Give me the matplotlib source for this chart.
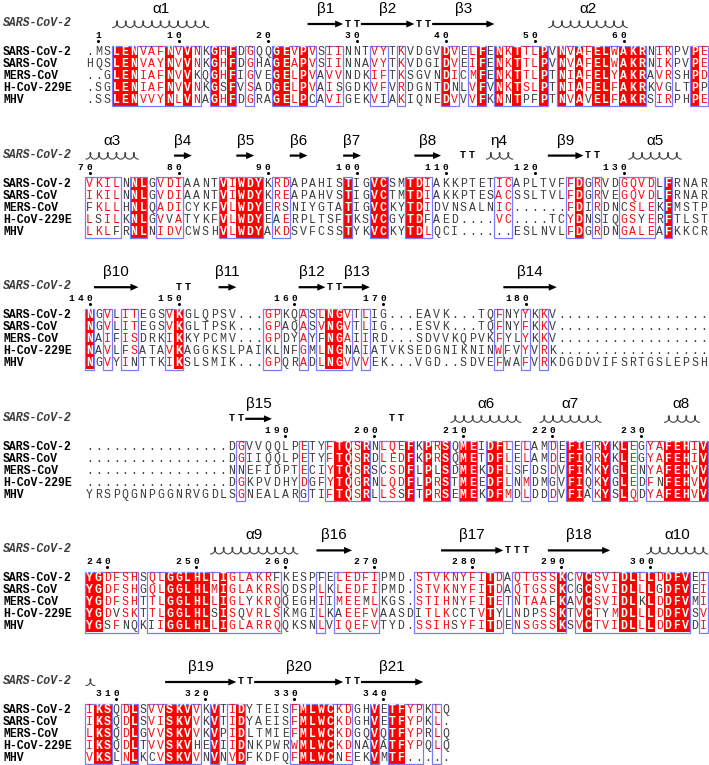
import numpy as np
import matplotlib.pyplot as plt
from matplotlib.patches import Rectangle, FancyArrow

# --- alignment data -------------------------------------------------------
NAMES = ["SARS-CoV-2", "SARS-CoV", "MERS-CoV", "H-CoV-229E", "MHV"]

BLOCK1 = [
    ".MSLENVAFNVVNKGHFDGQQGEVPVSIINNTVYTKVDGVDVELFENKTTLPVNVAFELWAKRNIKPVPE",
    "HQSLENVAYNVVNKGHFDGHAGEAPVSIINNAVYTKVDGIDVEIFENKTTLPVNVAFELWAKRNIKPVPE",
    "..GLENIAFNVVKQGHFIGVEGELPVAVVNDKIFTKSGVNDICMFENKTTLPTNIAFELYAKRAVRSHPD",
    ".SGLENIAFNVVNKGSFVSADGELPVAISGDKVFVRDGNTDNLVFVNKTSLPTNIAFELFAKRKVGLTPP",
    ".SSLENVVYNLVNAGHFDGRAGELPCAVIGEKVIAKIQNEDVVVFKNNTPFPTNVAVELFAKRSIRPHPE",
]
BLOCK2 = [
    "VKILNNLGVDIAANTVIWDYKRDAPAHISTIGVCSMTDIAKKPTETICAPLTVFFDGRVDGQVDLFRNAR",
    "IKILNNLGVDIAANTVIWDYKREAPAHVSTIGVCTMTDIAKKPTESACSSLTVLFDGRVEGQVDLFRNAR",
    "FKLLHNLQADICYKFVLWDYERSNIYGTATIGVCKYTDIDVNSALNIC......FDIRDNCSLEKFMSTP",
    "LSILKNLGVVATYKFVLWDYEAERPLTSFTKSVCGYTDFAED....VC....TCYDNSIQGSYERFTLST",
    "LKLFRNLNIDVCWSHVLWDYAKDSVFCSSTYKVCKYTDLQCI......ESLNVLFDGRDNGALEAFKKCR",
]
BLOCK3 = [
    "NGVLITEGSVKGLQPSV...GPKQASLNGVTLIG...EAVK...TQFNYYKKV" + "." * 17,
    "NGVLITEGSVKGLTPSK...GPAQASVNGVTLIG...ESVK...TQFNYFKKV" + "." * 17,
    "NAIFISDRKIKKYPCMV...GPDYAYFNGAIIRD...SDVVKQPVKFYLYKKV" + "." * 17,
    "NAVLFSATAVKAGGKSLPAIKLNFGMLNGNAIATVKSEDGNIKNINWFVYVRK" + "." * 17,
    "NGVYINTTKIKSLSMIK...GPQRADLNGVVVEK...VGD..SDVEFWAFVRKDGDDVIFSRTGSLEPSH",
]
BLOCK4 = [
    "." * 16 + "DGVVQQLPETYFTQSRNLQEFKPRSQMEIDFLELAMDEFIERYKLEGYAFEHIV",
    "." * 16 + "DGIIQQLPETYFTQSRDLEDFKPRSQMETDFLELAMDEFIQRYKLEGYAFEHIV",
    "." * 16 + "NNEFIDPTECIYTQSRSCSDFLPLSDMEKDFLSFDSDVFIKKYGLENYAFEHVV",
    "." * 16 + "DGKPVDHYDGFYTQGRNLQDFLPRSTMEEDFLNMDMGVFIQKYGLEDFNFEHVV",
    "YRSPQGNPGGNRVGDLSGNEALARGTIFTQSRLLSSFTPRSEMEKDFMDLDDDVFIAKYSLQDYAFEHVV",
]
BLOCK5 = [
    "YGDFSHSQLGGLHLLIGLAKRFKESPFELEDFIPMD.STVKNYFITDAQTGSSKCVCSVIDLLLDDFVEI",
    "YGDFSHGQLGGLHLMIGLAKRSQDSPLKLEDFIPMD.STVKNYFITDAQTGSSKCGCSVIDLLLGDFVEI",
    "YGDFSHTTLGGLHLLIGLYKRQQEGHIIMEEMLKGS.STIHNYFITETNTAAFKAVCSVIDLKLDDFVMI",
    "YGDVSKTTLGGLHLSISQVRLSKMGILKAEEFVAASDITLKCCTVTYLNDPSSKTVCTYMDLLLDDFVSV",
    "YGSFNQKIIGGLHLLIGLARRQQKSNLVIQEFVTYD.SSIHSYFITDENSGSSKSVCTVIDLLLDDFVDI",
]
BLOCK6 = [
    "IKSQDLSVVSKVVKVTIDYTEISFMLWCKDGHVETFYPKLQ",
    "IKSQDLSVISKVVKVTIDYAEISFMLWCKDGHVETFYPKL.",
    "LKSQDLGVVSKVVKVPIDLTMIEFMLWCKDGQVQTFYPRLQ",
    "IKSQDLTVVSKVHEVIIDNKPWRWMLWCKDNAVATFYPQLQ",
    "VKSLNLKCVSKVVNVNVDFKDFQFMLWCNEEKVMTF.....",
]

# similarity boxes (first column, last column)
BOXES1 = [(3, 12), (14, 16), (18, 18), (21, 25), (27, 28), (32, 33), (35, 35),
          (40, 41), (43, 44), (46, 51), (53, 62), (64, 65), (68, 69)]
BOXES2 = [(0, 3), (5, 6), (8, 10), (15, 19), (21, 22), (29, 29), (32, 33),
          (36, 38), (46, 47), (54, 55), (57, 57), (60, 63), (65, 65)]
BOXES3 = [(0, 0), (2, 2), (4, 5), (9, 10), (20, 21), (24, 24), (26, 29),
          (31, 31), (46, 46), (49, 49), (51, 51)]
BOXES4 = [(17, 17), (24, 24), (27, 31), (33, 36), (38, 40), (42, 43), (45, 47),
          (49, 49), (52, 52), (54, 55), (57, 58), (60, 61), (63, 69)]
BOXES5 = [(0, 5), (7, 21), (26, 26), (28, 32), (37, 46), (48, 53), (55, 67),
          (69, 69)]
BOXES6 = [(0, 2), (4, 5), (7, 12), (14, 14), (16, 17), (23, 29), (32, 32),
          (34, 37), (39, 39)]

# secondary structure of SARS-CoV-2: (kind, first col, last col, label)
SS1 = [("helix", 3, 13, "α1"), ("strand", 25, 28, "β1"), ("turn", 29, 30, None),
       ("strand", 31, 36, "β2"), ("turn", 37, 38, None), ("strand", 39, 45, "β3"),
       ("helix", 52, 60, "α2")]
SS2 = [("helix", 0, 5, "α3"), ("strand", 10, 11, "β4"), ("strand", 17, 18, "β5"),
       ("strand", 23, 24, "β6"), ("strand", 29, 30, "β7"), ("strand", 37, 39, "β8"),
       ("turn", 42, 43, None), ("helix", 45, 47, "η4"), ("strand", 52, 55, "β9"),
       ("turn", 56, 57, None), ("helix", 61, 66, "α5")]
SS3 = [("strand", 1, 5, "β10"), ("turn", 10, 11, None), ("strand", 15, 16, "β11"),
       ("strand", 24, 26, "β12"), ("turn", 27, 28, None), ("strand", 29, 31, "β13"),
       ("strand", 47, 52, "β14")]
SS4 = [("turn", 16, 17, None), ("strand", 18, 20, "β15"), ("turn", 34, 35, None),
       ("helix", 41, 48, "α6"), ("helix", 51, 57, "α7"), ("helix", 65, 68, "α8")]
SS5 = [("helix", 14, 23, "α9"), ("strand", 26, 29, "β16"), ("strand", 40, 46, "β17"),
       ("turn", 47, 49, None), ("strand", 52, 58, "β18"), ("helix", 63, 69, "α10")]
SS6 = [("helix", 0, 0, None), ("strand", 9, 16, "β19"), ("turn", 17, 18, None),
       ("strand", 19, 28, "β20"), ("turn", 29, 30, None), ("strand", 31, 37, "β21")]

BLOCKS = [BLOCK1, BLOCK2, BLOCK3, BLOCK4, BLOCK5, BLOCK6]
BOXES = [BOXES1, BOXES2, BOXES3, BOXES4, BOXES5, BOXES6]
SSTRUCT = [SS1, SS2, SS3, SS4, SS5, SS6]

SIM_GROUPS = ["ILMV", "FYW", "KRH", "DE", "NQ", "ND", "EQ", "ST", "AGS", "AV", "HY"]

# --- style -----------------------------------------------------------------
MONO = "Liberation Mono"
SANS = "Liberation Sans"
RED = "#ff0000"
TXT_RED = "#f01010"
BLUE = "#7a7aff"
GREY = "#3c3c3c"

W, H = 709, 765
X0, DX = 89.5, 8.9
Y0, BLOCK_DY, ROW_DY = 52, 131.6, 12.0
SEQ_FS = 8.3


def colx(c):
    return X0 + DX * c


def similar(a, b):
    return a == b or any(a in g and b in g for g in SIM_GROUPS)


fig = plt.figure(figsize=(W / 100, H / 100), dpi=100)
ax = fig.add_axes([0, 0, 1, 1])
ax.set_xlim(0, W)
ax.set_ylim(H, 0)
ax.axis("off")

resnum = 0
for b, (rows, boxes, ss) in enumerate(zip(BLOCKS, BOXES, SSTRUCT)):
    y0 = Y0 + b * BLOCK_DY
    ncol = len(rows[0])
    boxed = set()
    for s, e in boxes:
        boxed.update(range(s, e + 1))

    # reference name above the secondary structure line
    ax.text(3, y0 - 29, "SARS-CoV-2", fontsize=SEQ_FS, family=MONO,
            style="italic", weight="bold", color=GREY, va="center")

    # residue numbering (SARS-CoV-2)
    for c, ch in enumerate(rows[0]):
        if ch == ".":
            continue
        resnum += 1
        if resnum == 1 or resnum % 10 == 0:
            digits = str(resnum)
            for k, d in enumerate(digits):
                ax.text(colx(c - len(digits) + 1 + k), y0 - 16.5, d, fontsize=6.8,
                        family=MONO, weight="bold", color="black",
                        ha="center", va="center")
            ax.plot(colx(c), y0 - 11, marker="o", ms=1.2, color="black")

    # secondary structure
    yss = y0 - 28
    for kind, s, e, lab in ss:
        xs, xe = colx(s) - DX / 2, colx(e) + DX / 2
        if kind == "strand":
            ax.add_patch(FancyArrow(xs, yss, xe - xs, 0, width=2.2,
                                    head_width=7, head_length=8,
                                    length_includes_head=True,
                                    color="black", lw=0))
        elif kind == "helix":
            n = e - s + 1
            t = np.linspace(0, n, 80 * n)
            hx = xs + 1 + (DX - 0.2) * t + 2.2 * np.sin(2 * np.pi * t)
            hy = yss + 3.5 - 3.3 * (1 - np.cos(2 * np.pi * t))
            ax.plot(hx, hy, color="#444444", lw=0.8)
        else:
            for c in range(s, e + 1):
                ax.text(colx(c), yss - 0.5, "T", fontsize=7.3, family=MONO,
                        weight="bold", ha="center", va="center")
        if lab:
            ax.text((colx(s) + colx(e)) / 2, y0 - 43, lab, fontsize=11,
                    family=SANS, ha="center", va="center")

    # sequences
    for r, (name, seq) in enumerate(zip(NAMES, rows)):
        y = y0 + r * ROW_DY
        ax.text(3, y, name, fontsize=SEQ_FS, family=MONO, weight="bold",
                color="black", va="center")
    for c in range(ncol):
        col = [row[c] for row in rows]
        ident = col[0] != "." and all(ch == col[0] for ch in col)
        for r, ch in enumerate(col):
            y = y0 + r * ROW_DY
            if ident:
                ax.add_patch(Rectangle((colx(c) - DX / 2, y - ROW_DY / 2), DX,
                                       ROW_DY, color=RED, lw=0))
                ax.text(colx(c), y, ch, fontsize=SEQ_FS, family=MONO,
                        weight="bold", color="white", ha="center", va="center")
                continue
            color = GREY
            if c in boxed and ch != ".":
                others = [o for k, o in enumerate(col) if k != r and o != "."]
                if any(similar(ch, o) for o in others):
                    color = TXT_RED
            ax.text(colx(c), y, ch, fontsize=SEQ_FS, family=MONO,
                    color=color, ha="center", va="center")

    # similarity frames
    for s, e in boxes:
        ax.add_patch(Rectangle((colx(s) - DX / 2, y0 - ROW_DY / 2 - 0.3),
                               (e - s + 1) * DX, 5 * ROW_DY + 0.6,
                               fill=False, edgecolor=BLUE, lw=0.9))

fig.savefig("out.png", dpi=100)
